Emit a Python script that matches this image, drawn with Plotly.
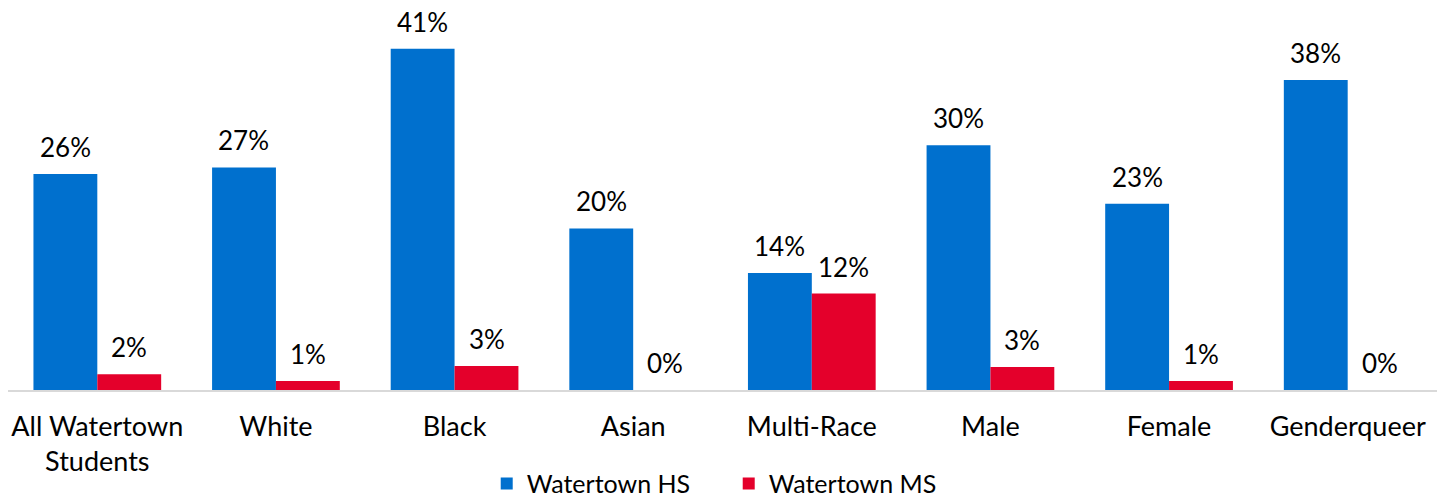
import plotly.graph_objects as go

categories = ["All Watertown<br>Students", "White", "Black", "Asian", "Multi-Race", "Male", "Female", "Genderqueer"]
hs_values = [26.2, 27.0, 41.4, 19.6, 14.2, 29.7, 22.6, 37.6]
ms_values = [1.9, 1.1, 2.9, 0.0, 11.7, 2.8, 1.1, 0.0]
hs_labels = ["26%", "27%", "41%", "20%", "14%", "30%", "23%", "38%"]
ms_labels = ["2%", "1%", "3%", "0%", "12%", "3%", "1%", "0%"]

BLUE = "#0070CE"
RED = "#E4002B"
FONT = "Lato"

fig = go.Figure()
fig.add_trace(go.Bar(name="Watertown HS", x=categories, y=hs_values, marker_color=BLUE,
                     marker_line_width=0))
fig.add_trace(go.Bar(name="Watertown MS", x=categories, y=ms_values, marker_color=RED,
                     marker_line_width=0))

annotations = []
for c, v, t in zip(categories, hs_values, hs_labels):
    annotations.append(dict(x=c, y=v, text=t, xref="x", yref="y", showarrow=False,
                            xshift=-32, yshift=27, yanchor="middle",
                            font=dict(family=FONT, size=26, color="#000")))
for c, v, t in zip(categories, ms_values, ms_labels):
    annotations.append(dict(x=c, y=v, text=t, xref="x", yref="y", showarrow=False,
                            xshift=32, yshift=27, yanchor="middle",
                            font=dict(family=FONT, size=26, color="#000")))

fig.update_layout(
    width=1443, height=501,
    margin=dict(l=8, r=6, t=19, b=111, autoexpand=False),
    paper_bgcolor="white", plot_bgcolor="white",
    barmode="group", bargap=0.285, bargroupgap=0,
    font=dict(family=FONT, size=26, color="#000"),
    xaxis=dict(showline=True, linecolor="#D9D9D9", linewidth=1.5, ticks="",
               automargin=False, ticklabelstandoff=12,
               tickfont=dict(family=FONT, size=27, color="#000")),
    yaxis=dict(range=[0, 45], visible=False, showgrid=False, zeroline=False,
               automargin=False),
    showlegend=True,
    legend=dict(orientation="h", x=0.335, xanchor="left", y=-0.253, yanchor="middle",
                font=dict(family=FONT, size=25, color="#000"), itemwidth=30,
                entrywidth=197, tracegroupgap=0),
    annotations=annotations,
)
fig.write_html("out.html", config={"displayModeBar": False},
               post_script="document.body.style.margin='0';")
